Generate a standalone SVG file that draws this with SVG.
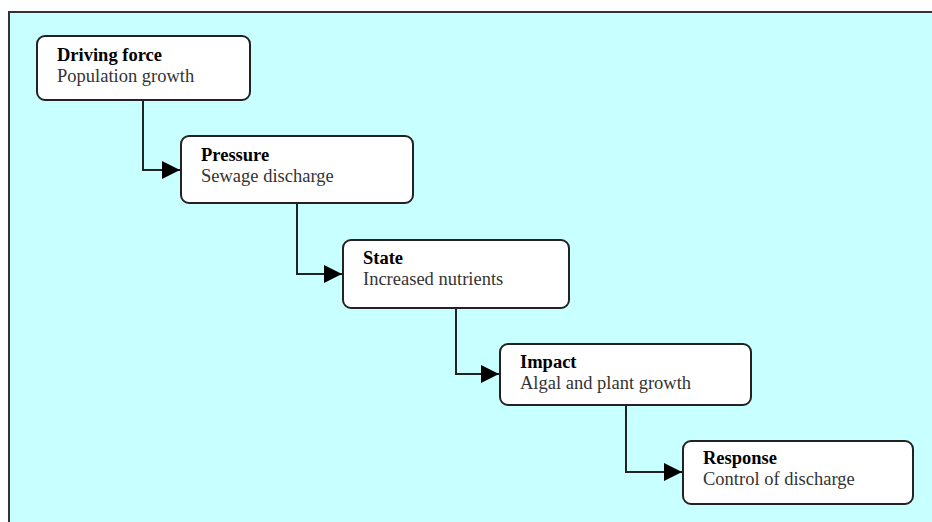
<svg xmlns="http://www.w3.org/2000/svg" width="932" height="522" viewBox="0 0 932 522">
<style>
.node rect{fill:#fff;stroke:#222;stroke-width:2}
.t{font-family:"Liberation Serif","Times New Roman",serif;font-size:18.5px;fill:#000;font-weight:bold}
.s{font-family:"Liberation Serif","Times New Roman",serif;font-size:18.5px;fill:#333}
.c path{fill:none;stroke:#222;stroke-width:2}
</style>
<defs>
<marker id="ah" viewBox="0 0 10 10" refX="10" refY="5" markerWidth="18" markerHeight="18" markerUnits="userSpaceOnUse" orient="auto">
<path d="M0,0 L10,5 L0,10 Z" fill="#000"/>
</marker>
</defs>
<rect x="0" y="0" width="932" height="522" fill="#fff"/>
<rect x="9" y="12" width="930" height="520" fill="#c8ffff"/>
<path d="M9,522 V12 H932" fill="none" stroke="#333" stroke-width="2"/>
<g class="c">
<path d="M143,101 V170 H180" marker-end="url(#ah)"/>
<path d="M297,203 V274 H342" marker-end="url(#ah)"/>
<path d="M456,308 V374 H499" marker-end="url(#ah)"/>
<path d="M626,405 V472 H682" marker-end="url(#ah)"/>
</g>
<g id="driving" class="node"><rect x="37" y="36" width="213" height="64" rx="8"/><text class="t" x="57" y="61">Driving force</text><text class="s" x="57" y="82">Population growth</text></g>
<g id="pressure" class="node"><rect x="181" y="136" width="232" height="67" rx="8"/><text class="t" x="201" y="161">Pressure</text><text class="s" x="201" y="182">Sewage discharge</text></g>
<g id="state" class="node"><rect x="343" y="240" width="226" height="68" rx="8"/><text class="t" x="363" y="264">State</text><text class="s" x="363" y="285">Increased nutrients</text></g>
<g id="impact" class="node"><rect x="500" y="344" width="251" height="61" rx="8"/><text class="t" x="520" y="368">Impact</text><text class="s" x="520" y="389">Algal and plant growth</text></g>
<g id="response" class="node"><rect x="683" y="441" width="230" height="63" rx="8"/><text class="t" x="703" y="464">Response</text><text class="s" x="703" y="485">Control of discharge</text></g>
</svg>
